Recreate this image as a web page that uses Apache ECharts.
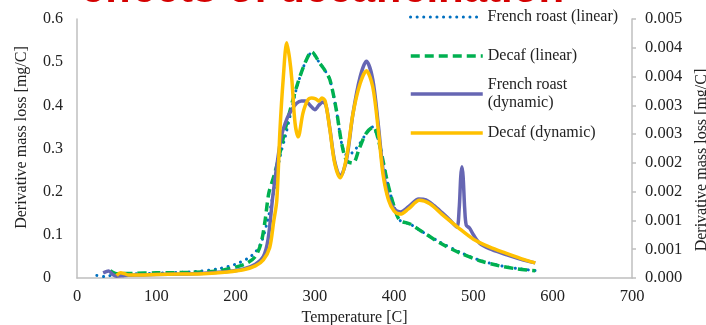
<!DOCTYPE html>
<html><head><meta charset="utf-8">
<script src="https://cdn.jsdelivr.net/npm/echarts@6/dist/echarts.min.js"></script>
<style>html,body{margin:0;padding:0;background:#fff}#c{width:706px;height:325px}</style>
</head><body><div id="c"></div>
<script>
// Temperature [C], value pairs
const seriesNames = ['French roast (linear)', 'Decaf (linear)', 'French roast\n(dynamic)', 'Decaf (dynamic)'];
const xTicks = [0, 100, 200, 300, 400, 500, 600, 700];
const rightTickLabels = ['0.000','0.001','0.001','0.002','0.002','0.003','0.003','0.004','0.004','0.005'];

// secondary axis (linear heating)
const frenchLinear = [[25,0.000045],[35,0.000023],[45,0.000053],[60,0.000068],[100,0.000083],[150,0.000113],[180,0.000165],[200,0.00024],[215,0.000338],[225,0.00045],[233,0.000638],[240,0.000975],[247,0.001425],[256,0.0021],[263,0.002475],[270,0.002888],[277,0.0033],[288,0.00375],[296,0.003915],[306,0.003735],[313,0.0036],[319,0.003443],[327,0.002925],[334,0.002325],[340,0.002138],[347,0.002175],[356,0.002325],[365,0.002513],[373,0.002625],[380,0.0024],[385,0.0021],[390,0.001763],[395,0.001478],[400,0.001238],[407,0.001005],[420,0.000938],[433,0.000825],[458,0.000623],[483,0.00045],[508,0.000308],[533,0.000218],[555,0.000165],[578,0.000128]];
const decafLinear = [[42,0.000128],[50,0.000075],[70,0.000083],[100,0.00009],[150,0.0001],[180,0.000128],[200,0.000188],[215,0.000263],[225,0.000375],[232,0.0006],[237,0.000975],[242,0.001478],[249,0.0018],[256,0.002175],[262,0.00255],[269,0.002925],[277,0.003323],[288,0.00375],[296,0.00393],[306,0.003735],[313,0.0036],[319,0.003443],[327,0.002925],[334,0.002325],[340,0.00204],[348,0.001995],[356,0.00225],[365,0.00252],[374,0.002625],[380,0.0024],[385,0.0021],[390,0.001763],[395,0.001478],[400,0.001238],[407,0.001005],[420,0.000938],[433,0.000825],[458,0.000608],[483,0.000435],[508,0.0003],[533,0.00021],[555,0.000158],[578,0.000128]];
// primary axis (dynamic heating)
const frenchDynamic = [[33,0.012],[40,0.016],[45,0.008],[50,0.004],[60,0.006],[80,0.007],[100,0.008],[130,0.009],[160,0.011],[190,0.015],[210,0.021],[225,0.032],[235,0.05],[241,0.09],[247,0.19],[252,0.26],[258,0.33],[265,0.37],[271,0.39],[277,0.405],[283,0.41],[288,0.41],[294,0.40],[300,0.39],[305,0.40],[310,0.408],[314,0.40],[319,0.345],[325,0.27],[332,0.235],[340,0.275],[348,0.38],[357,0.465],[365,0.502],[373,0.46],[380,0.355],[386,0.25],[393,0.185],[400,0.16],[408,0.153],[418,0.165],[431,0.183],[440,0.181],[450,0.168],[460,0.152],[470,0.135],[479,0.118],[482,0.16],[484,0.235],[485.5,0.258],[487,0.235],[489,0.16],[491,0.122],[495,0.116],[500,0.1],[508,0.08],[520,0.068],[540,0.055],[560,0.043],[578,0.035]];
const decafDynamic = [[50,0.006],[55,0.012],[60,0.01],[65,0.007],[80,0.007],[100,0.008],[130,0.009],[160,0.01],[190,0.014],[210,0.019],[225,0.028],[235,0.042],[243,0.07],[248,0.13],[252,0.18],[256,0.343],[260,0.459],[264.5,0.545],[268,0.51],[271,0.459],[275,0.359],[279,0.327],[285,0.382],[291,0.412],[296,0.417],[301,0.415],[305,0.41],[309,0.417],[313,0.41],[319,0.343],[325,0.266],[332,0.232],[340,0.28],[348,0.38],[357,0.45],[365,0.48],[373,0.443],[380,0.343],[386,0.24],[393,0.18],[400,0.155],[408,0.148],[418,0.16],[432,0.18],[445,0.172],[460,0.148],[480,0.118],[500,0.09],[520,0.072],[540,0.058],[560,0.045],[578,0.035]];

const serif = 'Liberation Serif';
const axisGray = '#BFBFBF';
const chart = echarts.init(document.getElementById('c'), null, {renderer: 'canvas'});
const legendBase = {orient: 'vertical', left: 409, padding: 0, itemWidth: 72, itemHeight: 14, itemGap: 0,
  itemStyle: {opacity: 0},
  textStyle: {fontFamily: serif, fontSize: 16, color: '#222', lineHeight: 18}};
chart.setOption({
  animation: false,
  title: {text: 'effects of decaffeination', left: 81, top: -31, padding: 0,
    textStyle: {fontFamily: 'Liberation Sans', fontWeight: 'bold', fontSize: 42, color: '#D40000'}},
  legend: [
    Object.assign({}, legendBase, {top: 8, data: [seriesNames[0]], lineStyle: {width: 3, cap: 'round'}}),
    Object.assign({}, legendBase, {top: 47, data: [seriesNames[1]], lineStyle: {width: 3.5}}),
    Object.assign({}, legendBase, {top: 67, data: [seriesNames[2]], lineStyle: {width: 3.5},
      textStyle: Object.assign({}, legendBase.textStyle, {padding: [18, 0, 0, 0]})}),
    Object.assign({}, legendBase, {top: 124, data: [seriesNames[3]], lineStyle: {width: 3.5}})
  ],
  grid: {left: 77, right: 74, top: 19, bottom: 47, outerBoundsMode: 'none', containLabel: false},
  xAxis: {type: 'value', min: xTicks[0], max: xTicks[xTicks.length - 1], interval: 100,
    name: 'Temperature [C]', nameLocation: 'middle', nameGap: 30,
    nameTextStyle: {fontFamily: serif, fontSize: 16, color: '#222'},
    axisLine: {lineStyle: {color: axisGray, width: 1.5}}, axisTick: {show: false}, splitLine: {show: false},
    axisLabel: {fontFamily: serif, fontSize: 16.5, color: '#222', margin: 10}},
  yAxis: [
    {type: 'value', min: 0, max: 0.6, interval: 0.1, position: 'left',
      name: 'Derivative mass loss [mg/C]', nameLocation: 'middle', nameRotate: 90, nameGap: 47,
      nameTextStyle: {fontFamily: serif, fontSize: 16, color: '#222', padding: [0, 0, 0, 22]},
      axisLine: {show: true, lineStyle: {color: axisGray, width: 1.5}}, axisTick: {show: false}, splitLine: {show: false},
      axisLabel: {fontFamily: serif, fontSize: 16, color: '#222', align: 'left', margin: 34}},
    {type: 'value', min: 0, max: 0.0045, interval: 0.0005, position: 'right',
      name: 'Derivative mass loss [mg/C]', nameLocation: 'middle', nameRotate: 90, nameGap: 62,
      nameTextStyle: {fontFamily: serif, fontSize: 16, color: '#222', padding: [0, 23, 0, 0]},
      axisLine: {show: true, lineStyle: {color: axisGray, width: 1.5}},
      axisTick: {show: true, inside: false, length: 4, lineStyle: {color: axisGray, width: 1.5}}, splitLine: {show: false},
      axisLabel: {fontFamily: serif, fontSize: 16.5, color: '#222', margin: 13,
        formatter: v => rightTickLabels[Math.round(v / 0.0005)]}}
  ],
  series: [
    {name: seriesNames[0], type: 'line', yAxisIndex: 1, data: frenchLinear, symbol: 'none', smooth: 0.3,
      lineStyle: {color: '#0070C0', width: 3, type: [0.1, 6.5], cap: 'round'}, itemStyle: {color: '#0070C0'}},
    {name: seriesNames[1], type: 'line', yAxisIndex: 1, data: decafLinear, symbol: 'none', smooth: 0.3,
      lineStyle: {color: '#00B050', width: 3.5, type: [9, 5]}, itemStyle: {color: '#00B050'}},
    {name: seriesNames[2], type: 'line', yAxisIndex: 0, data: frenchDynamic, symbol: 'none', smooth: 0.3,
      lineStyle: {color: '#6666B3', width: 3.5}, itemStyle: {color: '#6666B3'}},
    {name: seriesNames[3], type: 'line', yAxisIndex: 0, data: decafDynamic, symbol: 'none', smooth: 0.3,
      lineStyle: {color: '#FFC000', width: 3.5}, itemStyle: {color: '#FFC000'}}
  ]
});
</script></body></html>
